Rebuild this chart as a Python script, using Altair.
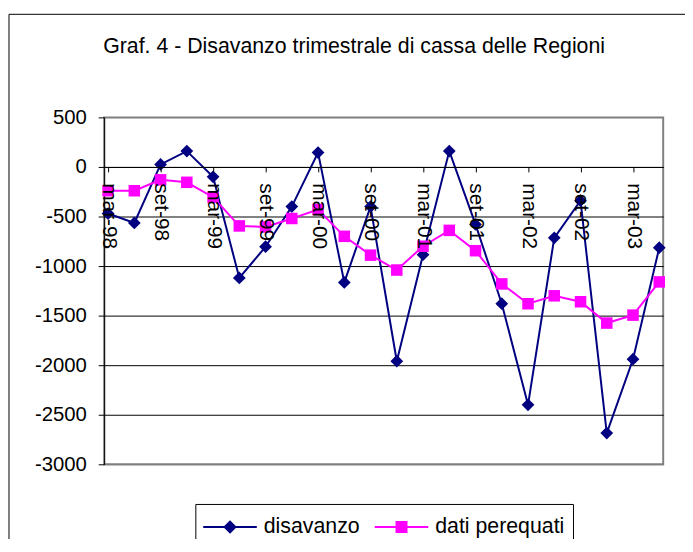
import altair as alt
import pandas as pd

# ---- data ----
quarters = ["mar-98", "giu-98", "set-98", "dic-98",
            "mar-99", "giu-99", "set-99", "dic-99",
            "mar-00", "giu-00", "set-00", "dic-00",
            "mar-01", "giu-01", "set-01", "dic-01",
            "mar-02", "giu-02", "set-02", "dic-02",
            "mar-03", "giu-03"]
disavanzo = [-470, -565, 25, 160, -100, -1120, -805, -400, 145, -1165, -400,
             -1960, -885, 160, -580, -1380, -2400, -715, -340, -2685, -1940, -815]
dati_perequati = [-240, -240, -130, -155, -305, -595, -605, -520, -430, -700, -890,
                  -1040, -800, -640, -845, -1180, -1380, -1300, -1360, -1575, -1495, -1160]
series_names = ["disavanzo", "dati perequati"]
label_quarters = quarters[::2]
y_ticks = list(range(-3000, 501, 500))
title_text = "Graf. 4 - Disavanzo trimestrale di cassa delle Regioni"

n = len(quarters)
df = pd.DataFrame({
    "trimestre": quarters * 2,
    "serie": [series_names[0]] * n + [series_names[1]] * n,
    "valore": disavanzo + dati_perequati,
})

NAVY = "#000080"
MAGENTA = "#FF00FF"
FONT = "Liberation Sans"

# legend glyphs: line segment with marker (unit = sqrt(784)/2 = 14 px)
P_DIAMOND = "M-1.93,0L1.93,0M0,-0.39L0.39,0L0,0.39L-0.39,0Z"
P_SQUARE = "M-1.93,0L1.93,0M-0.36,-0.36L0.36,-0.36L0.36,0.36L-0.36,0.36Z"

x_enc = alt.X(
    "trimestre:N", sort=quarters,
    scale=alt.Scale(type="point", padding=0.15),
    axis=alt.Axis(values=label_quarters, title=None, orient="bottom", offset=-300,
                  labelAngle=90, labelAlign="left", labelBaseline="middle",
                  labelFont=FONT, labelFontSize=21, labelColor="black", labelPadding=11,
                  tickSize=5, tickColor="black", domainColor="black",
                  labelOverlap=False, grid=False, zindex=1),
)
y_enc = alt.Y(
    "valore:Q",
    scale=alt.Scale(domain=[-3000, 500], nice=False, zero=False),
    axis=alt.Axis(values=y_ticks, title=None, labelFont=FONT, labelFontSize=20.5,
                  labelColor="black", labelPadding=12, tickSize=6, tickColor="black",
                  domainColor="black", grid=True, gridWidth=1,
                  gridColor={"condition": {"test": "datum.value == 500 || datum.value == -3000",
                                           "value": "#808080"}, "value": "black"},
                  labelExpr="datum.value + ''"),
)

base = alt.Chart(df)

frame = alt.Chart(pd.DataFrame({"k": [0]})).mark_rect(
    fillOpacity=0, stroke="black", strokeWidth=1
).encode(x=alt.value(-96), x2=alt.value(900), y=alt.value(-104), y2=alt.value(800))

line_d = base.transform_filter(alt.datum.serie == series_names[0]).mark_line(
    color=NAVY, strokeWidth=2).encode(x=x_enc, y=y_enc)
pts_d = base.transform_filter(alt.datum.serie == series_names[0]).mark_point(
    shape="diamond", filled=True, size=165, color=NAVY, opacity=1).encode(x=x_enc, y=y_enc)
line_p = base.transform_filter(alt.datum.serie == series_names[1]).mark_line(
    color=MAGENTA, strokeWidth=2).encode(x=x_enc, y=y_enc)
pts_p = base.transform_filter(alt.datum.serie == series_names[1]).mark_point(
    shape="square", filled=True, size=135, color=MAGENTA, opacity=1).encode(x=x_enc, y=y_enc)

legend_def = alt.Legend(
    title=None, orient="none", legendX=92, legendY=390, direction="horizontal",
    strokeColor="black", fillColor="white", padding=8,
    symbolSize=784, symbolStrokeWidth=2, symbolOpacity=1, symbolOffset=12,
    labelOffset=19, columnPadding=10, labelFont=FONT, labelFontSize=21.5,
    labelColor="black", cornerRadius=0,
)
color_scale = alt.Scale(domain=series_names, range=[NAVY, MAGENTA])
leg = base.mark_point(filled=True, opacity=0).encode(
    x=x_enc, y=y_enc,
    fill=alt.Fill("serie:N", scale=color_scale, legend=legend_def),
    stroke=alt.Stroke("serie:N", scale=color_scale, legend=legend_def),
    shape=alt.Shape("serie:N", scale=alt.Scale(domain=series_names, range=[P_DIAMOND, P_SQUARE]),
                    legend=legend_def),
)

chart = alt.layer(frame, line_d, pts_d, line_p, pts_p, leg).properties(
    width=564, height=350,
    autosize=alt.AutoSizeParams(type="none"),
    padding={"left": 97, "top": 108, "right": 22, "bottom": 73},
    title=alt.TitleParams(title_text, anchor="start", frame="group", dx=-1, dy=23, offset=-38,
                          font=FONT, fontSize=21.5, fontWeight="normal", color="black",
                          baseline="alphabetic"),
    background="white",
).configure_view(stroke="#808080", strokeWidth=2)

chart.save("out.html", embed_options={"renderer": "svg", "actions": False})
